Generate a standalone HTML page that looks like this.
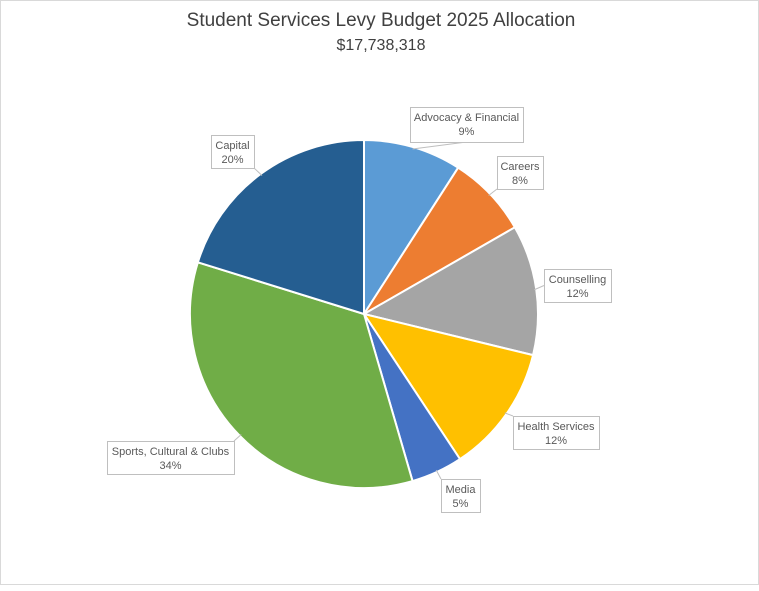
<!DOCTYPE html>
<html><head><meta charset="utf-8"><style>
body{margin:0;background:#fff;font-family:"Liberation Sans",sans-serif}
#c{position:relative;width:759px;height:585px;border:1px solid #d9d9d9;box-sizing:border-box}
</style></head><body>
<div id="c">
<svg id="s" width="759" height="585" xmlns="http://www.w3.org/2000/svg" font-family="Liberation Sans, sans-serif">
<text x="380" y="25" text-anchor="middle" font-size="19" fill="#404040">Student Services Levy Budget 2025 Allocation</text>
<text x="380" y="49" text-anchor="middle" font-size="16" fill="#404040">$17,738,318</text>
<g id="pie"></g><g id="labels"></g>
</svg>
</div>
<script>
const categories=["Advocacy & Financial","Careers","Counselling","Health Services","Media","Sports, Cultural & Clubs","Capital"];
const values=[9.1,7.6,12.1,11.9,4.8,34.3,20.2];
const colors=["#5b9bd5","#ed7d31","#a5a5a5","#ffc000","#4472c4","#70ad47","#255e91"];
const boxes=[[409,106,113,35],[496,155,46,33],[543,268,67,33],[512,415,86,33],[440,478,39,33],[106,440,127,33],[210,134,43,33]];
const cx=363,cy=313,r=174,NS="http://www.w3.org/2000/svg";
const total=values.reduce((a,b)=>a+b,0);
const pie=document.getElementById('pie'),lab=document.getElementById('labels');
function pt(a,rr){return [cx+rr*Math.sin(a),cy-rr*Math.cos(a)];}
let acc=0;
values.forEach((v,i)=>{
  const a0=acc/total*2*Math.PI; acc+=v; const a1=acc/total*2*Math.PI;
  const p0=pt(a0,r),p1=pt(a1,r);
  const p=document.createElementNS(NS,'path');
  p.setAttribute('d',`M${cx},${cy}L${p0[0]},${p0[1]}A${r},${r} 0 ${a1-a0>Math.PI?1:0} 1 ${p1[0]},${p1[1]}Z`);
  p.setAttribute('fill',colors[i]);p.setAttribute('stroke','#fff');p.setAttribute('stroke-width','2');
  
  
  pie.appendChild(p);
  const [bx,by,bw,bh]=boxes[i];
  const am=(a0+a1)/2, e=pt(am,r-2);
  const bcx=bx+bw/2,bcy=by+bh/2;
  const ax=Math.max(bx,Math.min(bx+bw,e[0])),ay=Math.max(by,Math.min(by+bh,e[1]));
  const ln=document.createElementNS(NS,'line');
  ln.setAttribute('x1',e[0]);ln.setAttribute('y1',e[1]);
  ln.setAttribute('x2',ax===e[0]?bcx:ax);ln.setAttribute('y2',ay===e[1]?bcy:ay);
  ln.setAttribute('stroke','#bfbfbf');
  
  
  lab.appendChild(ln);
  const rc=document.createElementNS(NS,'rect');
  rc.setAttribute('x',bx+.5);rc.setAttribute('y',by+.5);rc.setAttribute('width',bw);rc.setAttribute('height',bh);
  rc.setAttribute('fill','#fff');rc.setAttribute('stroke','#bfbfbf');
  
  
  lab.appendChild(rc);
  const t=document.createElementNS(NS,'text');
  t.setAttribute('x',bcx);t.setAttribute('y',by+14);t.setAttribute('text-anchor','middle');
  t.setAttribute('font-size','11');t.setAttribute('fill','#595959');
  
  
  const s1=document.createElementNS(NS,'tspan');s1.setAttribute('x',bcx);s1.textContent=categories[i];
  const s2=document.createElementNS(NS,'tspan');s2.setAttribute('x',bcx);s2.setAttribute('dy','14');s2.textContent=Math.round(v/total*100)+'%';
  t.appendChild(s1);t.appendChild(s2);lab.appendChild(t);
});
</script>
</body></html>
